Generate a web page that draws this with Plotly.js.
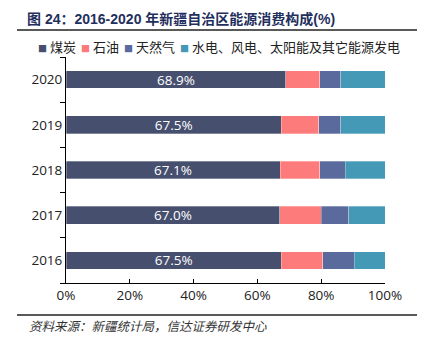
<!DOCTYPE html>
<html>
<head>
<meta charset="utf-8">
<script src="https://cdn.plot.ly/plotly-3.0.1.min.js"></script>
<style>html,body{margin:0;padding:0;background:#fff;}#chart{width:429px;height:346px;}</style>
</head>
<body>
<div id="chart"></div>
<script>
const years = ['2016', '2017', '2018', '2019', '2020'];
const seriesNames = ['煤炭', '石油', '天然气', '水电、风电、太阳能及其它能源发电'];
const coal = [67.5, 67.0, 67.1, 67.5, 68.9];
const oil = [13.0, 13.0, 12.5, 11.8, 10.7];
const gas = [9.9, 8.6, 7.9, 6.9, 6.6];
const other = [9.6, 11.4, 12.5, 13.8, 13.8];
const xTicks = [0, 20, 40, 60, 80, 100];
const xTickLabels = ['0%', '20%', '40%', '60%', '80%', '100%'];
const colors = ['#474f6f', '#fd7b7a', '#5a6a9d', '#4499b6'];
const titleText = '图 24：2016-2020 年新疆自治区能源消费构成(%)';
const sourceText = '资料来源：新疆统计局，信达证券研发中心';

const FONT = '"Noto Sans CJK SC", "Noto Sans", sans-serif';
const TITLEFONT = '"Liberation Sans", "Noto Sans CJK SC", sans-serif';
const NUMFONT = '"Open Sans", "Noto Sans", sans-serif';
const values = [coal, oil, gas, other];
const traces = values.map((v, i) => ({
  type: 'bar',
  orientation: 'h',
  y: years,
  x: v,
  name: seriesNames[i],
  marker: {color: colors[i], line: {color: 'rgba(255,255,255,0.6)', width: 0.5}},
  text: i === 0 ? v.map(d => d.toFixed(1) + '%') : undefined,
  textposition: i === 0 ? 'inside' : 'none',
  insidetextanchor: 'middle',
  constraintext: 'none',
  textfont: {color: '#ffffff', size: 13.5, family: NUMFONT},
  hoverinfo: 'x+name',
  showlegend: false
}));

const legendHtml = seriesNames.map((n, i) =>
  '<span style="color:' + colors[i] + ';font-size:9px">■</span> ' + n
).join(' &#8198;');

const L = 66, R = 385, T = 57, B = 283;
const W = R - L, H = B - T;
const px = x => (x - L) / W;
const py = y => (B - y) / H;

const layout = {
  width: 429, height: 346,
  margin: {l: L, r: 429 - R, t: T, b: 346 - B, pad: 0},
  paper_bgcolor: '#ffffff', plot_bgcolor: '#ffffff',
  font: {family: FONT, color: '#222222', size: 14},
  barmode: 'stack',
  bargap: 0.61,
  showlegend: false,
  title: {
    text: '<b>' + titleText + '</b>',
    x: 27 / 429, xanchor: 'left', xref: 'container',
    y: 1 - 19 / 346, yanchor: 'middle', yref: 'container',
    font: {family: TITLEFONT, size: 14, color: '#1f2f5e'}
  },
  xaxis: {
    range: [0, 100], tickmode: 'array', tickvals: xTicks, ticktext: xTickLabels,
    ticks: 'inside', ticklen: 4, tickcolor: '#000', tickwidth: 1,
    showline: true, linecolor: '#000', linewidth: 1,
    showgrid: false, zeroline: false,
    tickfont: {size: 13.5, color: '#222', family: NUMFONT}, fixedrange: true
  },
  yaxis: {
    type: 'category', tickson: 'boundaries',
    ticks: 'outside', ticklen: 5, tickcolor: '#000', tickwidth: 1,
    showline: true, linecolor: '#000', linewidth: 1,
    showgrid: false, zeroline: false,
    tickfont: {size: 13.5, color: '#222', family: NUMFONT}, fixedrange: true
  },
  shapes: [
    {type: 'line', xref: 'paper', yref: 'paper', x0: px(17), x1: px(417), y0: py(30), y1: py(30), line: {color: '#222', width: 1.5}},
    {type: 'line', xref: 'paper', yref: 'paper', x0: px(17), x1: px(417), y0: py(315), y1: py(315), line: {color: '#222', width: 1.5}}
  ],
  annotations: [
    {text: legendHtml, xref: 'paper', yref: 'paper', x: px(36), y: py(47), xanchor: 'left', yanchor: 'middle', showarrow: false, font: {family: FONT, size: 13, color: '#222'}},
    {text: sourceText, xref: 'paper', yref: 'paper', x: px(27), y: py(325), xanchor: 'left', yanchor: 'middle', showarrow: false, font: {family: FONT, size: 12.5, color: '#333', style: 'italic'}}
  ]
};

Plotly.newPlot('chart', traces, layout, {displayModeBar: false, staticPlot: true});
</script>
</body>
</html>
